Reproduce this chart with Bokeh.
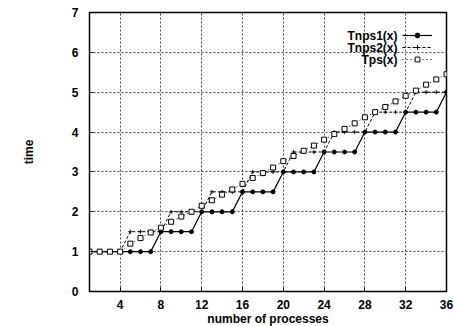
from bokeh.plotting import figure
from bokeh.models import Range1d, FixedTicker, Legend, LegendItem, Label
from bokeh.embed import file_html
from bokeh.resources import INLINE

# ---- data ----
procs = list(range(1, 37))
tnps1 = [1, 1, 1, 1, 1, 1, 1,
         1.5, 1.5, 1.5, 1.5, 2, 2, 2, 2, 2.5, 2.5, 2.5, 2.5,
         3, 3, 3, 3, 3.5, 3.5, 3.5, 3.5, 4, 4, 4, 4,
         4.5, 4.5, 4.5, 4.5, 5]
tnps2 = [1, 1, 1, 1, 1.5, 1.5, 1.5, 1.5, 2, 2, 2, 2, 2.5, 2.5, 2.5, 2.5,
         3, 3, 3, 3, 3.5, 3.5, 3.5, 3.5, 4, 4, 4, 4, 4.5, 4.5, 4.5, 4.5,
         5, 5, 5, 5]
tps = [1, 1, 1, 1, 1.2, 1.34, 1.48, 1.6, 1.75, 1.88, 2.0, 2.15, 2.29, 2.43,
       2.56, 2.7, 2.85, 2.97, 3.11, 3.27, 3.4, 3.53, 3.66, 3.81, 3.95, 4.08,
       4.22, 4.37, 4.5, 4.63, 4.77, 4.91, 5.04, 5.19, 5.32, 5.45]
series_names = ["Tnps1(x)", "Tnps2(x)", "Tps(x)"]
x_ticks = [4, 8, 12, 16, 20, 24, 28, 32, 36]
y_ticks = [0, 1, 2, 3, 4, 5, 6, 7]

FONT = "Liberation Sans"

p = figure(frame_width=357, frame_height=279, output_backend="svg",
           toolbar_location=None,
           x_range=Range1d(1, 36), y_range=Range1d(0, 7),
           min_border_left=89, min_border_right=8, min_border_top=12,
           min_border_bottom=33)
p.outline_line_color = "black"
p.outline_line_width = 1.5

for ax in (p.xaxis[0], p.yaxis[0]):
    ax.major_label_text_font = FONT
    ax.major_label_text_font_style = "bold"
    ax.major_label_text_font_size = "12px"
    ax.major_label_text_color = "black"
    ax.axis_label_text_font = FONT
    ax.axis_label_text_font_style = "bold"
    ax.axis_label_text_font_size = "12px"
    ax.axis_label_text_color = "black"
    ax.major_tick_in = 4
    ax.major_tick_out = 0
    ax.minor_tick_line_color = None
    ax.axis_line_color = "black"
    ax.major_tick_line_color = "black"

p.xaxis[0].ticker = FixedTicker(ticks=x_ticks)
p.yaxis[0].ticker = FixedTicker(ticks=y_ticks)
p.xaxis[0].axis_label = "number of processes"
p.yaxis[0].axis_label = "time"
p.xaxis[0].major_label_standoff = 8
p.xaxis[0].axis_label_standoff = 0
p.yaxis[0].major_label_standoff = 11
p.yaxis[0].axis_label_standoff = 33

for g in (p.xgrid[0], p.ygrid[0]):
    g.grid_line_color = "#444444"
    g.grid_line_dash = "2 2"
    g.grid_line_width = 1

# series
l1 = p.line(procs, tnps1, line_color="black", line_width=1.2)
s1 = p.scatter(procs, tnps1, marker="circle", size=4, fill_color="black",
               line_color="black")
l2 = p.line(procs, tnps2, line_color="black", line_width=1, line_dash="3 2")
s2 = p.scatter(procs, tnps2, marker="cross", size=4, line_color="black",
               line_width=1)
l3 = p.line(procs, tps, line_color="black", line_width=1, line_dash="1 3")
s3 = p.scatter(procs, tps, marker="square", size=5, fill_color="white",
               line_color="black", line_width=1)

legend = Legend(items=[LegendItem(label=" ", renderers=[l1, s1]),
                       LegendItem(label=" ", renderers=[l2, s2]),
                       LegendItem(label=" ", renderers=[l3, s3])],
                location=(313, 226), orientation="vertical",
                glyph_width=30, glyph_height=12, label_height=12,
                label_width=1, label_standoff=0, spacing=0, padding=0,
                margin=0, border_line_alpha=0, background_fill_alpha=0,
                label_text_font_size="1px")
p.add_layout(legend)

for i, name in enumerate(series_names):
    p.add_layout(Label(x=308, y=256 - 12 * i, x_units="screen", y_units="screen",
                       text=name, text_align="right", text_baseline="middle",
                       text_font=FONT, text_font_style="bold",
                       text_font_size="12px", text_color="black"))

open("out.html", "w").write(file_html(p, INLINE))
